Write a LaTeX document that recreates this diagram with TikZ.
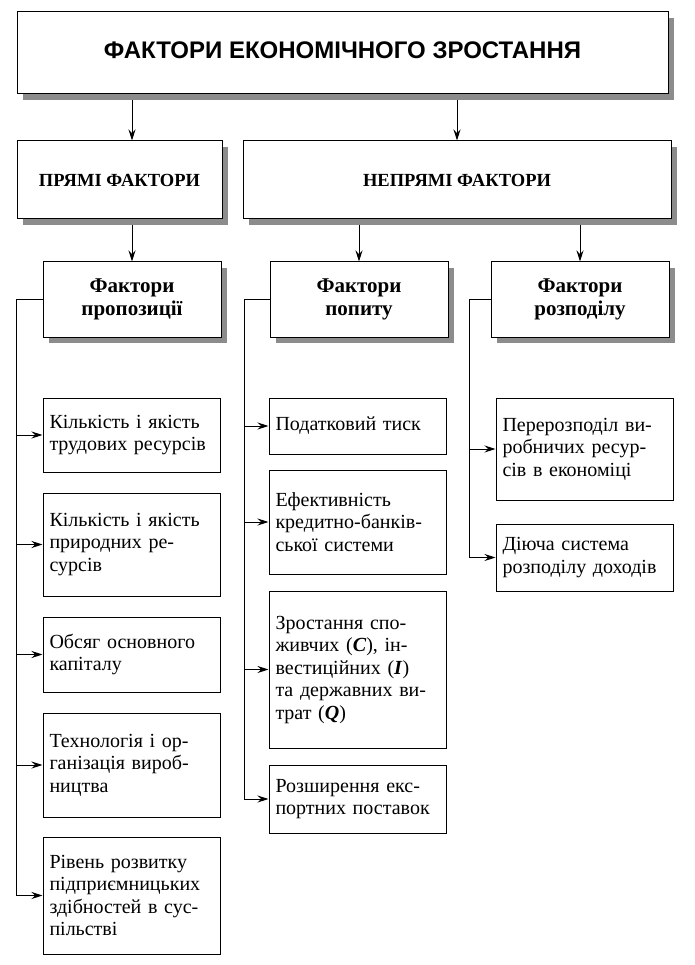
\documentclass[tikz,border=0pt]{standalone}
\usepackage{fontspec}
\setmainfont{Liberation Serif}
\newfontfamily\headfont{Liberation Sans}
\usetikzlibrary{arrows.meta,positioning,shadows}
\tikzstyle{tb} = [rectangle, draw, fill=white, minimum width=651pt, minimum height=82pt,
    font=\headfont\bfseries\fontsize{24}{28}\selectfont,
    drop shadow={shadow xshift=6pt, shadow yshift=-6pt, fill=black!45, opacity=1}]
\tikzstyle{hb} = [rectangle, draw, fill=white, minimum height=78pt,
    font=\bfseries\fontsize{18.5}{22}\selectfont,
    drop shadow={shadow xshift=6pt, shadow yshift=-6pt, fill=black!45, opacity=1}]
\tikzstyle{fb} = [rectangle, draw, fill=white, minimum width=178pt, minimum height=75pt,
    align=center, font=\bfseries\fontsize{21}{23}\selectfont,
    drop shadow={shadow xshift=6pt, shadow yshift=-6pt, fill=black!45, opacity=1}]
\tikzstyle{ib} = [rectangle, draw, fill=white, text width=164pt, inner xsep=6.5pt,
    align=left, font=\fontsize{20}{22.5}\selectfont]
\newcommand{\jl}[1]{\makebox[164pt][s]{#1}\\}

\begin{document}
\begin{tikzpicture}[->,>={Stealth[length=11pt,width=7pt]},line width=1pt]
  \useasboundingbox (0,0) rectangle (694pt,-965pt);

  \node[tb]                      (title) at (342.5pt,-53pt) {\raisebox{6pt}{ФАКТОРИ ЕКОНОМІЧНОГО ЗРОСТАННЯ}};
  \node[hb, minimum width=205pt] (pryami) [below right=46pt and 0pt of title.south west] {ПРЯМІ ФАКТОРИ};
  \node[hb, minimum width=428pt] (nepryami) [below left=46pt and -3pt of title.south east] {НЕПРЯМІ ФАКТОРИ};

  \node[fb] (pr) [below right=42pt and 26pt of pryami.south west] {Фактори\\пропозиції};
  \node[fb] (pp) [below right=42pt and 27pt of nepryami.south west] {Фактори\\попиту};
  \node[fb] (rz) [below left=42pt and 2pt of nepryami.south east] {Фактори\\розподілу};

  % фактори пропозиції
  \node[ib, minimum height=74pt]  (p1) [below right=60pt and 0pt of pr.south west]
    {\jl{Кількість і якість}\mbox{трудових ресурсів}};
  \node[ib, minimum height=103pt] (p2) [below=20pt of p1]
    {\jl{Кількість і якість}\jl{природних ре-}сурсів};
  \node[ib, minimum height=75pt]  (p3) [below=20pt of p2]
    {\jl{Обсяг основного}капіталу};
  \node[ib, minimum height=104pt] (p4) [below=20pt of p3]
    {\jl{Технологія і ор-}\jl{ганізація вироб-}ництва};
  \node[ib, minimum height=117pt] (p5) [below=19pt of p4]
    {\jl{Рівень розвитку}\jl{підприємницьких}\jl{здібностей в сус-}пільстві};

  % фактори попиту
  \node[ib, minimum height=56pt]  (d1) [below right=60pt and -1pt of pp.south west]
    {Податковий тиск};
  \node[ib, minimum height=104pt] (d2) [below=15pt of d1]
    {Ефективність\\\jl{кредитно-банків-}ської системи};
  \node[ib, minimum height=157pt] (d3) [below=16pt of d2]
    {\jl{Зростання спо-}\jl{живчих (\textbf{\textit{C}}), ін-}\jl{вестиційних (\textbf{\textit{I}})}\jl{та державних ви-}трат (\textbf{\textit{Q}})};
  \node[ib, minimum height=68pt]  (d4) [below=16pt of d3]
    {\jl{Розширення екс-}\mbox{портних поставок}};

  % фактори розподілу
  \node[ib, minimum height=102pt] (r1) [below right=60pt and 5pt of rz.south west]
    {\jl{Перерозподіл ви-}\jl{робничих ресур-}сів в економіці};
  \node[ib, minimum height=67pt]  (r2) [below=23pt of r1]
    {\jl{Діюча система}\mbox{розподілу доходів}};

  \path[shorten <=6pt] (title.south -| pr) edge (pryami.north -| pr)
  (title.south -| nepryami) edge (nepryami.north)
  (pryami.south -| pr) edge (pr.north)
  (nepryami.south -| pp) edge (pp.north)
  (nepryami.south -| rz) edge (rz.north);

  \foreach \n in {p1,p2,p3,p4,p5}
    \draw (pr.west) -- ++(-26pt,0) |- (\n.west);
  \foreach \n in {d1,d2,d3,d4}
    \draw (pp.west) -- ++(-25pt,0) |- (\n.west);
  \foreach \n in {r1,r2}
    \draw (rz.west) -- ++(-21pt,0) |- (\n.west);
\end{tikzpicture}
\end{document}
